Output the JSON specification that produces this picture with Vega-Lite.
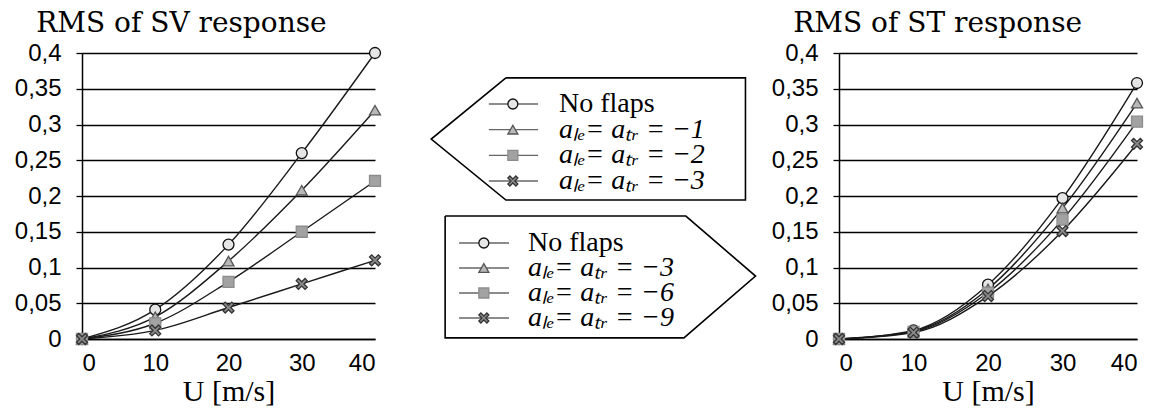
{
  "$schema": "https://vega.github.io/schema/vega-lite/v6.json",
  "background": "white",
  "padding": {"left": 14, "top": 10, "right": 0, "bottom": 0},
  "spacing": 0,
  "config": {
    "view": {"stroke": null},
    "font": "Liberation Sans",
    "axis": {
      "labelFont": "Liberation Sans",
      "labelFontSize": 24,
      "labelColor": "black",
      "domainColor": "black",
      "domainWidth": 1.5,
      "tickColor": "black",
      "tickWidth": 1.3,
      "gridColor": "black",
      "gridWidth": 1.3,
      "gridOpacity": 1,
      "titleColor": "black"
    },
    "title": {"font": "DejaVu Serif", "fontSize": 28, "fontWeight": "normal", "color": "black", "anchor": "start", "frame": "bounds", "dx": 22, "offset": 3}
  },
  "datasets": {
    "sv": [
      {"U": 0, "rms": 0, "flaps": "none"},
      {"U": 10, "rms": 0.041, "flaps": "none"},
      {"U": 20, "rms": 0.132, "flaps": "none"},
      {"U": 30, "rms": 0.26, "flaps": "none"},
      {"U": 40, "rms": 0.4, "flaps": "none"},
      {"U": 0, "rms": 0, "flaps": "-1"},
      {"U": 10, "rms": 0.031, "flaps": "-1"},
      {"U": 20, "rms": 0.109, "flaps": "-1"},
      {"U": 30, "rms": 0.208, "flaps": "-1"},
      {"U": 40, "rms": 0.32, "flaps": "-1"},
      {"U": 0, "rms": 0, "flaps": "-2"},
      {"U": 10, "rms": 0.022, "flaps": "-2"},
      {"U": 20, "rms": 0.08, "flaps": "-2"},
      {"U": 30, "rms": 0.15, "flaps": "-2"},
      {"U": 40, "rms": 0.221, "flaps": "-2"},
      {"U": 0, "rms": 0, "flaps": "-3"},
      {"U": 10, "rms": 0.012, "flaps": "-3"},
      {"U": 20, "rms": 0.044, "flaps": "-3"},
      {"U": 30, "rms": 0.077, "flaps": "-3"},
      {"U": 40, "rms": 0.11, "flaps": "-3"}
    ],
    "st": [
      {"U": 0, "rms": 0, "flaps": "none"},
      {"U": 10, "rms": 0.012, "flaps": "none"},
      {"U": 20, "rms": 0.076, "flaps": "none"},
      {"U": 30, "rms": 0.197, "flaps": "none"},
      {"U": 40, "rms": 0.358, "flaps": "none"},
      {"U": 0, "rms": 0, "flaps": "-3"},
      {"U": 10, "rms": 0.011, "flaps": "-3"},
      {"U": 20, "rms": 0.07, "flaps": "-3"},
      {"U": 30, "rms": 0.183, "flaps": "-3"},
      {"U": 40, "rms": 0.33, "flaps": "-3"},
      {"U": 0, "rms": 0, "flaps": "-6"},
      {"U": 10, "rms": 0.01, "flaps": "-6"},
      {"U": 20, "rms": 0.065, "flaps": "-6"},
      {"U": 30, "rms": 0.167, "flaps": "-6"},
      {"U": 40, "rms": 0.304, "flaps": "-6"},
      {"U": 0, "rms": 0, "flaps": "-9"},
      {"U": 10, "rms": 0.009, "flaps": "-9"},
      {"U": 20, "rms": 0.06, "flaps": "-9"},
      {"U": 30, "rms": 0.151, "flaps": "-9"},
      {"U": 40, "rms": 0.273, "flaps": "-9"}
    ],
    "boxes": [
      {"box": 1, "i": 0, "bx": 31.5, "by": 91.3},
      {"box": 1, "i": 1, "bx": 93.4, "by": 91.3},
      {"box": 1, "i": 2, "bx": 93.4, "by": 48.6},
      {"box": 1, "i": 3, "bx": 31.5, "by": 48.6},
      {"box": 1, "i": 4, "bx": 12.2, "by": 69.9},
      {"box": 1, "i": 5, "bx": 31.5, "by": 91.3},
      {"box": 2, "i": 0, "bx": 15.8, "by": 43.0},
      {"box": 2, "i": 1, "bx": 78.0, "by": 43.0},
      {"box": 2, "i": 2, "bx": 96.0, "by": 22.0},
      {"box": 2, "i": 3, "bx": 77.5, "by": 0.4},
      {"box": 2, "i": 4, "bx": 15.8, "by": 0.4},
      {"box": 2, "i": 5, "bx": 15.8, "by": 43.0}
    ],
    "items": [
      {"box": 1, "rank": 1, "label": "No flaps"},
      {"box": 1, "rank": 2, "label": "aₗₑ= aₜᵣ = −1"},
      {"box": 1, "rank": 3, "label": "aₗₑ= aₜᵣ = −2"},
      {"box": 1, "rank": 4, "label": "aₗₑ= aₜᵣ = −3"},
      {"box": 2, "rank": 1, "label": "No flaps"},
      {"box": 2, "rank": 2, "label": "aₗₑ= aₜᵣ = −3"},
      {"box": 2, "rank": 3, "label": "aₗₑ= aₜᵣ = −6"},
      {"box": 2, "rank": 4, "label": "aₗₑ= aₜᵣ = −9"}
    ]
  },
  "resolve": {"scale": {"x": "independent", "y": "independent", "shape": "independent", "fill": "independent", "stroke": "independent"}},
  "hconcat": [
    {
      "width": 293,
      "height": 286,
      "title": {"text": "RMS of SV response"},
      "data": {"name": "sv"},
      "encoding": {
        "x": {"field": "U", "type": "quantitative", "scale": {"domain": [0, 40], "nice": false, "zero": false},
          "axis": {"values": [0, 10, 20, 30, 40], "title": "U [m/s]", "grid": false, "ticks": false, "labelPadding": 12, "titleFont": "Liberation Serif", "titleFontSize": 30, "titleFontWeight": "normal", "titlePadding": 1}},
        "y": {"field": "rms", "type": "quantitative", "scale": {"domain": [0, 0.4], "nice": false},
          "axis": {"values": [0, 0.05, 0.1, 0.15, 0.2, 0.25, 0.3, 0.35, 0.4], "title": null, "grid": true, "tickSize": 6, "labelPadding": 15, "labelExpr": "replace(format(datum.value, '~g'), '.', ',')"}}
      },
      "layer": [
        {"mark": {"type": "line", "interpolate": "monotone", "color": "#1a1a1a", "strokeWidth": 1.4}, "encoding": {"detail": {"field": "flaps"}}},
        {"mark": {"type": "point", "filled": true, "size": 120, "strokeWidth": 1.3, "opacity": 1},
          "encoding": {
            "shape": {"field": "flaps", "type": "nominal", "scale": {"domain": ["none", "-1", "-2", "-3"], "range": ["circle", "triangle-up", "square", "M-1,-0.6L-0.6,-1L0,-0.4L0.6,-1L1,-0.6L0.4,0L1,0.6L0.6,1L0,0.4L-0.6,1L-1,0.6L-0.4,0Z"]}, "legend": null},
            "fill": {"field": "flaps", "type": "nominal", "scale": {"domain": ["none", "-1", "-2", "-3"], "range": ["#e6e6e6", "#b8b8b8", "#a2a2a2", "#8a8a8a"]}, "legend": null},
            "stroke": {"field": "flaps", "type": "nominal", "scale": {"domain": ["none", "-1", "-2", "-3"], "range": ["#111111", "#555555", "#8c8c8c", "#333333"]}, "legend": null}
          }}
      ]
    },
    {
      "width": 387,
      "height": 286,
      "layer": [
        {
          "data": {"name": "boxes"},
          "mark": {"type": "line", "color": "black", "strokeWidth": 1.6, "clip": false},
          "encoding": {
            "x": {"field": "bx", "type": "quantitative", "scale": {"domain": [0, 100], "nice": false, "zero": false}, "axis": null},
            "y": {"field": "by", "type": "quantitative", "scale": {"domain": [0, 100], "nice": false}, "axis": null},
            "detail": {"field": "box"},
            "order": {"field": "i"}
          }
        },
        {
          "data": {"name": "items"},
          "transform": [{"filter": "datum.box == 1"}],
          "encoding": {"y": {"field": "rank", "type": "ordinal", "scale": {"type": "point", "domain": [1, 2, 3, 4], "range": [51, 128], "padding": 0}, "axis": null}},
          "layer": [
            {"mark": {"type": "rule", "color": "#666", "strokeWidth": 1.3}, "encoding": {"x": {"datum": 27.1}, "x2": {"datum": 39.8}}},
            {"mark": {"type": "point", "filled": true, "size": 100, "strokeWidth": 1.3, "opacity": 1},
              "encoding": {
                "x": {"datum": 33.3},
                "shape": {"field": "rank", "type": "nominal", "scale": {"domain": [1, 2, 3, 4], "range": ["circle", "triangle-up", "square", "M-1,-0.6L-0.6,-1L0,-0.4L0.6,-1L1,-0.6L0.4,0L1,0.6L0.6,1L0,0.4L-0.6,1L-1,0.6L-0.4,0Z"]}, "legend": null},
                "fill": {"field": "rank", "type": "nominal", "scale": {"domain": [1, 2, 3, 4], "range": ["#e6e6e6", "#b8b8b8", "#a2a2a2", "#8a8a8a"]}, "legend": null},
                "stroke": {"field": "rank", "type": "nominal", "scale": {"domain": [1, 2, 3, 4], "range": ["#111111", "#555555", "#8c8c8c", "#333333"]}, "legend": null}
              }},
            {"transform": [{"filter": "datum.rank == 1"}], "mark": {"type": "text", "align": "left", "baseline": "middle", "font": "Liberation Serif", "fontSize": 28, "color": "black"}, "encoding": {"x": {"datum": 45.2}, "text": {"field": "label"}}},
            {"transform": [{"filter": "datum.rank > 1"}], "mark": {"type": "text", "align": "left", "baseline": "middle", "font": "Liberation Serif", "fontSize": 28, "fontStyle": "italic", "color": "black"}, "encoding": {"x": {"datum": 45.2}, "text": {"field": "label"}}}
          ]
        },
        {
          "data": {"name": "items"},
          "transform": [{"filter": "datum.box == 2"}],
          "encoding": {"y": {"field": "rank", "type": "ordinal", "scale": {"type": "point", "domain": [1, 2, 3, 4], "range": [190, 265], "padding": 0}, "axis": null}},
          "layer": [
            {"mark": {"type": "rule", "color": "#666", "strokeWidth": 1.3}, "encoding": {"x": {"datum": 19.4}, "x2": {"datum": 32.3}}},
            {"mark": {"type": "point", "filled": true, "size": 100, "strokeWidth": 1.3, "opacity": 1},
              "encoding": {
                "x": {"datum": 25.8},
                "shape": {"field": "rank", "type": "nominal", "scale": {"domain": [1, 2, 3, 4], "range": ["circle", "triangle-up", "square", "M-1,-0.6L-0.6,-1L0,-0.4L0.6,-1L1,-0.6L0.4,0L1,0.6L0.6,1L0,0.4L-0.6,1L-1,0.6L-0.4,0Z"]}, "legend": null},
                "fill": {"field": "rank", "type": "nominal", "scale": {"domain": [1, 2, 3, 4], "range": ["#e6e6e6", "#b8b8b8", "#a2a2a2", "#8a8a8a"]}, "legend": null},
                "stroke": {"field": "rank", "type": "nominal", "scale": {"domain": [1, 2, 3, 4], "range": ["#111111", "#555555", "#8c8c8c", "#333333"]}, "legend": null}
              }},
            {"transform": [{"filter": "datum.rank == 1"}], "mark": {"type": "text", "align": "left", "baseline": "middle", "font": "Liberation Serif", "fontSize": 28, "color": "black"}, "encoding": {"x": {"datum": 37.2}, "text": {"field": "label"}}},
            {"transform": [{"filter": "datum.rank > 1"}], "mark": {"type": "text", "align": "left", "baseline": "middle", "font": "Liberation Serif", "fontSize": 28, "fontStyle": "italic", "color": "black"}, "encoding": {"x": {"datum": 37.2}, "text": {"field": "label"}}}
          ]
        }
      ],
      "resolve": {"scale": {"y": "independent"}}
    },
    {
      "width": 298,
      "height": 286,
      "title": {"text": "RMS of ST response"},
      "data": {"name": "st"},
      "encoding": {
        "x": {"field": "U", "type": "quantitative", "scale": {"domain": [0, 40], "nice": false, "zero": false},
          "axis": {"values": [0, 10, 20, 30, 40], "title": "U [m/s]", "grid": false, "ticks": false, "labelPadding": 12, "titleFont": "Liberation Serif", "titleFontSize": 30, "titleFontWeight": "normal", "titlePadding": 1}},
        "y": {"field": "rms", "type": "quantitative", "scale": {"domain": [0, 0.4], "nice": false},
          "axis": {"values": [0, 0.05, 0.1, 0.15, 0.2, 0.25, 0.3, 0.35, 0.4], "title": null, "grid": true, "tickSize": 6, "labelPadding": 15, "labelExpr": "replace(format(datum.value, '~g'), '.', ',')"}}
      },
      "layer": [
        {"data": {"values": [{"edge": 40}]}, "mark": {"type": "rule", "color": "black", "strokeWidth": 1.5}, "encoding": {"x": {"field": "edge", "type": "quantitative"}, "y": {"datum": 0}, "y2": {"datum": 0.4}}},
        {"mark": {"type": "line", "interpolate": "monotone", "color": "#1a1a1a", "strokeWidth": 1.4}, "encoding": {"detail": {"field": "flaps"}}},
        {"mark": {"type": "point", "filled": true, "size": 120, "strokeWidth": 1.3, "opacity": 1},
          "encoding": {
            "shape": {"field": "flaps", "type": "nominal", "scale": {"domain": ["none", "-3", "-6", "-9"], "range": ["circle", "triangle-up", "square", "M-1,-0.6L-0.6,-1L0,-0.4L0.6,-1L1,-0.6L0.4,0L1,0.6L0.6,1L0,0.4L-0.6,1L-1,0.6L-0.4,0Z"]}, "legend": null},
            "fill": {"field": "flaps", "type": "nominal", "scale": {"domain": ["none", "-3", "-6", "-9"], "range": ["#e6e6e6", "#b8b8b8", "#a2a2a2", "#8a8a8a"]}, "legend": null},
            "stroke": {"field": "flaps", "type": "nominal", "scale": {"domain": ["none", "-3", "-6", "-9"], "range": ["#111111", "#555555", "#8c8c8c", "#333333"]}, "legend": null}
          }}
      ]
    }
  ]
}
